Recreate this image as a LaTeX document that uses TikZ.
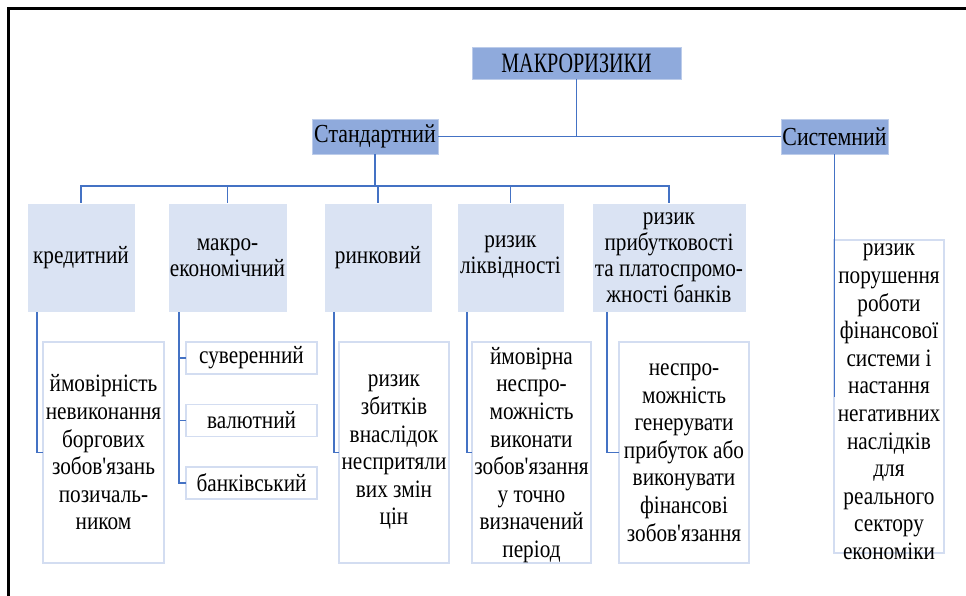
\documentclass[tikz,border=0pt]{standalone}
\usepackage{fontspec}
\setmainfont{Liberation Serif}[FakeStretch=0.85, Ligatures=TeXOff]
\newfontfamily\headfont{Liberation Serif}[FakeStretch=0.72, Ligatures=TeXOff]
\newfontfamily\branchfont{Liberation Serif}[FakeStretch=0.84, Ligatures=TeXOff]
\usetikzlibrary{calc}
\definecolor{lineblue}{HTML}{4472C4}
\definecolor{topfill}{HTML}{8FAADC}
\definecolor{midfill}{HTML}{DAE3F3}
\definecolor{descedge}{HTML}{D3DDF1}
\begin{document}
\begin{tikzpicture}[x=1pt,y=-1pt,
  every node/.style={inner sep=0pt, outer sep=0pt, font=\fontsize{25}{27.6}\selectfont, align=center, text=black},
  topbox/.style={fill=topfill, draw=topfill!60!white, line width=0.8pt},
  midbox/.style={fill=midfill, draw=white, line width=0.8pt, minimum height=109, font=\fontsize{25}{26}\selectfont},
  descbox/.style={fill=white, draw=descedge, line width=1.6pt, minimum height=221},
  subbox/.style={fill=white, draw=descedge, line width=1.6pt, minimum width=131, minimum height=32},
  conn/.style={draw=lineblue, line width=1.9pt},
  frameline/.style={draw=black, line width=3pt}]
\useasboundingbox (0,0) rectangle (966,596);
\draw[frameline] (966,8.7) -- (8.7,8.7) -- (8.7,596);
% level 1 and 2
\node[topbox, minimum width=209, minimum height=32, font=\headfont\fontsize{28}{30}\selectfont] (top) at (576.5,63) {МАКРОРИЗИКИ};
\node[topbox, minimum width=126, minimum height=35, font=\branchfont\fontsize{26}{28}\selectfont] (std) at (375,136.5) {Стандартний};
\node[topbox, minimum width=107, minimum height=35, font=\branchfont\fontsize{26}{28}\selectfont] (sys) at (834.5,136.5) {Системний};
% level 3
\node[midbox, minimum width=108] (kred) at (81,257.5) {кредитний};
\node[midbox, minimum width=119] (makro) at (227.5,257.5) {макро-\\економічний};
\node[midbox, minimum width=108] (rynk) at (378,257.5) {ринковий};
\node[midbox, minimum width=107] (likv) at (510.5,257.5) {ризик\\ліквідності};
\node[midbox, minimum width=154] (prib) at (669,257.5) {ризик\\прибутковості\\та платоспромо-\\жності банків};
% level 4
\node[descbox, minimum width=121] (d1) at (103.5,452.5) {ймовірність\\невиконання\\боргових\\зобов'язань\\позичаль-\\ником};
\node[subbox] (s1) at (251.5,358) {суверенний};
\node[subbox] (s2) at (251.5,420.5) {валютний};
\node[subbox] (s3) at (251.5,483) {банківський};
\node[descbox, minimum width=110] (d3) at (394,452.5) {ризик\\збитків\\внаслідок\\неспритяли\\вих змін\\цін};
\node[descbox, minimum width=119] (d4) at (531.5,452.5) {};
\node (d4t) at (531.5,455) {ймовірна\\неспро-\\можність\\виконати\\зобов'язання\\у точно\\визначений\\період};
\node[descbox, minimum width=130] (d5) at (684,452.5) {неспро-\\можність\\генерувати\\прибуток або\\виконувати\\фінансові\\зобов'язання};
\node[descbox, minimum width=110, minimum height=313] (sysd) at (889,396.5) {};
\node (sysdt) at (889,402) {ризик\\порушення\\роботи\\фінансової\\системи і\\настання\\негативних\\наслідків\\для\\реального\\сектору\\економіки};
% connectors
\draw[conn] (std.east) -- (sys.west);
\draw[conn] (top.south) -- (top.south |- std.east);
\coordinate (bus) at (375,186);
\draw[conn] (std.south) -- (bus);
\draw[conn] (kred.north) -- (kred.north |- bus) -- (prib.north |- bus) -- (prib.north);
\foreach \n in {makro,rynk,likv} \draw[conn] (\n.north) -- (\n.north |- bus);
\coordinate (kb) at ($(kred.south west)!0.093!(kred.south east)$);
\coordinate (mb) at ($(makro.south west)!0.093!(makro.south east)$);
\coordinate (rb) at ($(rynk.south west)!0.093!(rynk.south east)$);
\coordinate (lb) at ($(likv.south west)!0.093!(likv.south east)$);
\coordinate (pb) at ($(prib.south west)!0.097!(prib.south east)$);
\draw[conn] (kb) |- (d1.west);
\draw[conn] (mb) |- (s1.west);
\draw[conn] (mb) |- (s2.west);
\draw[conn] (mb) |- (s3.west);
\draw[conn] (rb) |- (d3.west);
\draw[conn] (lb) |- (d4.west);
\draw[conn] (pb) |- (d5.west);
\draw[conn] (sys.south) |- (sysd.west);
\end{tikzpicture}
\end{document}
